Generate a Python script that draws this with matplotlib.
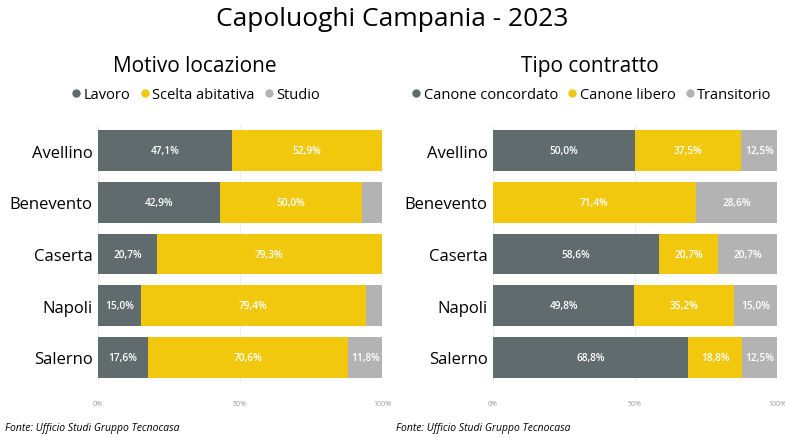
import matplotlib
matplotlib.use("Agg")
import matplotlib.pyplot as plt
from matplotlib.lines import Line2D

plt.rcParams['font.family'] = ['Open Sans', 'DejaVu Sans']

cities = ["Avellino", "Benevento", "Caserta", "Napoli", "Salerno"]

motivo_labels = ["Lavoro", "Scelta abitativa", "Studio"]
lavoro = [47.1, 42.9, 20.7, 15.0, 17.6]
scelta = [52.9, 50.0, 79.3, 79.4, 70.6]
studio = [0.0, 7.1, 0.0, 5.6, 11.8]

contratto_labels = ["Canone concordato", "Canone libero", "Transitorio"]
concordato = [50.0, 0.0, 58.6, 49.8, 68.8]
libero = [37.5, 71.4, 20.7, 35.2, 18.8]
transitorio = [12.5, 28.6, 20.7, 15.0, 12.5]

xticks = [0, 50, 100]
xticklabels = ["0%", "50%", "100%"]

colors = ["#5f6b6d", "#f2c80f", "#b3b3b3"]

fig = plt.figure(figsize=(7.85, 4.39), dpi=100)
fig.text(0.5, 0.955, "Capoluoghi Campania - 2023", ha="center", va="center", fontsize=19)

def draw(ax, series, labels, subtitle, cx):
    left = [0.0] * len(cities)
    y = list(range(len(cities)))
    for vals, col in zip(series, colors):
        ax.barh(y, vals, left=left, color=col, height=0.79, zorder=2)
        for i, v in enumerate(vals):
            if v >= 8:
                ax.text(left[i] + v / 2, y[i], f"{v:.1f}%".replace(".", ","),
                        ha="center", va="center", color="white", fontsize=7.3,
                        fontweight="semibold", zorder=3)
        left = [l + v for l, v in zip(left, vals)]
    ax.set_ylim(len(cities) - 0.5, -0.5)
    ax.set_xlim(0, 100)
    ax.set_yticks(y)
    ax.set_yticklabels(cities, fontsize=12)
    ax.set_xticks(xticks)
    ax.set_xticklabels(xticklabels, fontsize=5, color="#999999")
    ax.tick_params(axis="both", length=0, pad=4)
    ax.tick_params(axis="x", pad=12)
    for s in ax.spines.values():
        s.set_visible(False)
    ax.grid(axis="x", color="#eeeeee", linewidth=0.8, zorder=0)
    ax.set_axisbelow(True)
    fig.text(cx, 0.848, subtitle, ha="center", va="center", fontsize=15)
    handles = [Line2D([], [], marker="o", linestyle="none", color=c, markersize=5) for c in colors]
    fig.legend(handles, labels, loc="center", bbox_to_anchor=(cx, 0.783), ncol=3,
               frameon=False, fontsize=10.5, handletextpad=0.0, columnspacing=0.5,
               borderpad=0, handlelength=1.0)

ax1 = fig.add_axes([0.1248, 0.125, 0.3618, 0.588])
draw(ax1, [lavoro, scelta, studio], motivo_labels, "Motivo locazione", 0.248)
ax2 = fig.add_axes([0.628, 0.125, 0.3618, 0.588])
draw(ax2, [concordato, libero, transitorio], contratto_labels, "Tipo contratto", 0.752)

fig.text(0.006, 0.025, "Fonte: Ufficio Studi Gruppo Tecnocasa", fontsize=7.5, style="italic", va="center")
fig.text(0.505, 0.025, "Fonte: Ufficio Studi Gruppo Tecnocasa", fontsize=7.5, style="italic", va="center")

fig.savefig("out.png", dpi=100)
